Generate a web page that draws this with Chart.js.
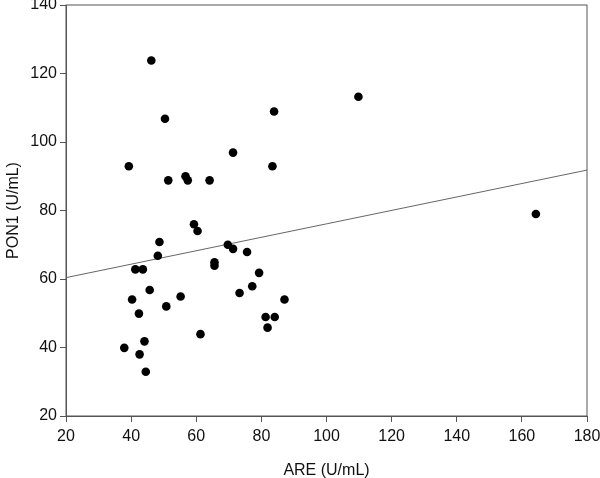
<!DOCTYPE html>
<html>
<head>
<meta charset="utf-8">
<script src="https://cdn.jsdelivr.net/npm/chart.js@4"></script>
<style>
  html, body { margin: 0; padding: 0; background: #fff; }
  #wrap { width: 600px; height: 478px; }
</style>
</head>
<body>
<div id="wrap"><canvas id="scatter"></canvas></div>
<script>
// ARE vs PON1 values
const areValues = [46.2, 50.4, 39.3, 51.4, 56.7, 57.4, 64.1, 71.3, 83.9, 83.4, 59.3, 60.4,
    109.8, 164.3, 48.7, 48.2, 69.7, 71.3, 75.6, 65.6, 65.6, 41.3, 43.6, 79.3, 45.7, 55.2,
    40.3, 73.3, 77.2, 87.1, 50.8, 42.4, 81.3, 84.1, 81.9, 61.3, 44.1, 37.9, 42.6, 44.5];
const pon1Values = [123.8, 106.8, 92.9, 88.8, 90.0, 88.8, 88.8, 96.9, 108.9, 92.9, 76.0, 74.0,
    113.2, 79.0, 70.8, 66.8, 70.0, 68.8, 67.9, 64.9, 63.9, 62.8, 62.8, 61.8, 56.8, 54.9,
    54.0, 55.9, 57.9, 54.0, 52.0, 49.9, 48.9, 48.9, 45.8, 43.9, 41.8, 39.9, 38.0, 32.9];
// fitted line end points
const fitX = [20, 180];
const fitY = [60.4, 91.8];

const xTicks = [20, 40, 60, 80, 100, 120, 140, 160, 180];
const yTicks = [20, 40, 60, 80, 100, 120, 140];

const points = areValues.map((v, i) => ({x: v, y: pon1Values[i]}));
const fitLine = fitX.map((v, i) => ({x: v, y: fitY[i]}));

const frame = {
    id: 'frame',
    afterDatasetsDraw(chart) {
        const a = chart.chartArea;
        const ctx = chart.ctx;
        ctx.save();
        ctx.strokeStyle = '#555';
        ctx.lineWidth = 1;
        ctx.strokeRect(a.left, a.top, a.right - a.left, a.bottom - a.top);
        ctx.restore();
    }
};

const font = {family: '"Liberation Sans", Arial, sans-serif', size: 16};

new Chart(document.getElementById('scatter'), {
    type: 'scatter',
    data: {
        datasets: [{
            label: 'PON1',
            data: points,
            pointRadius: 4.3,
            pointBackgroundColor: '#000',
            pointBorderWidth: 0,
            order: 1
        }, {
            type: 'line',
            label: 'fit',
            data: fitLine,
            borderColor: '#666',
            borderWidth: 1,
            pointRadius: 0,
            fill: false,
            order: 2
        }]
    },
    options: {
        responsive: true,
        maintainAspectRatio: false,
        animation: false,
        layout: {padding: {top: 5, right: 13, left: 0, bottom: 0}},
        plugins: {
            legend: {display: false},
            tooltip: {enabled: false}
        },
        scales: {
            x: {
                type: 'linear',
                min: 20,
                max: 180,
                afterBuildTicks: s => { s.ticks = xTicks.map(v => ({value: v})); },
                afterFit: s => { s.height = 62; s.paddingLeft = 0; s.paddingRight = 0; },
                grid: {drawOnChartArea: false, tickLength: 6, color: '#555'},
                border: {color: '#555'},
                ticks: {color: '#111', font: font, padding: 5},
                title: {display: true, text: 'ARE (U/mL)', color: '#111', font: font, padding: {top: 17, bottom: -2}}
            },
            y: {
                type: 'linear',
                min: 20,
                max: 140,
                afterBuildTicks: s => { s.ticks = yTicks.map(v => ({value: v})); },
                afterFit: s => { s.width = 66; s.paddingTop = 0; s.paddingBottom = 0; },
                grid: {drawOnChartArea: false, tickLength: 6, color: '#555'},
                border: {color: '#555'},
                ticks: {color: '#111', font: font, padding: 3},
                title: {display: true, text: 'PON1 (U/mL)', color: '#111', font: font, padding: {bottom: 4}}
            }
        }
    },
    plugins: [frame]
});
</script>
</body>
</html>
